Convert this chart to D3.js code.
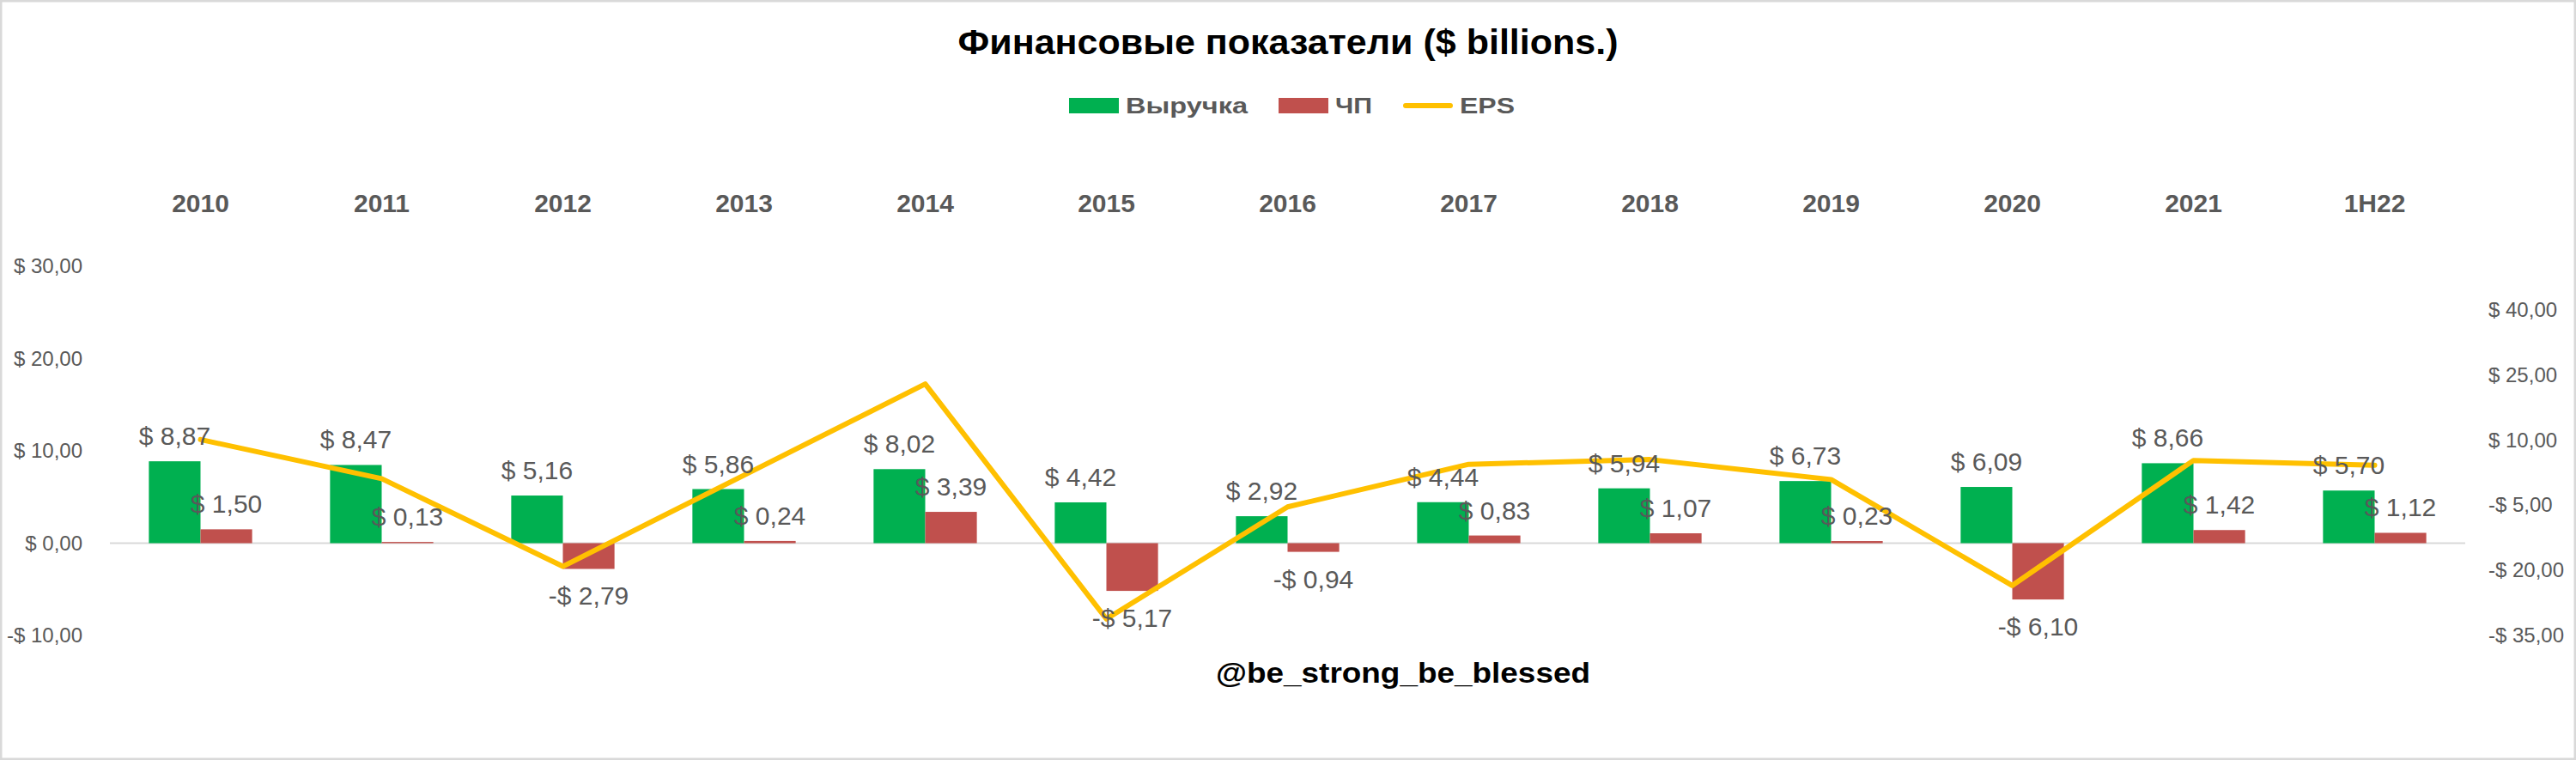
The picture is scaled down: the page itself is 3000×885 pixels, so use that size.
<!DOCTYPE html>
<html>
<head>
<meta charset="utf-8">
<script src="https://cdn.jsdelivr.net/npm/d3@7"></script>
<style>
  body { margin: 0; background: #fff; }
  svg { display: block; font-family: "Liberation Sans", Arial, sans-serif; }
</style>
</head>
<body>
<div id="chart"></div>
<script>
const categories = ["2010", "2011", "2012", "2013", "2014", "2015", "2016", "2017", "2018", "2019", "2020", "2021", "1H22"];
const revenue = [8.87, 8.47, 5.16, 5.86, 8.02, 4.42, 2.92, 4.44, 5.94, 6.73, 6.09, 8.66, 5.70];
const netIncome = [1.50, 0.13, -2.79, 0.24, 3.39, -5.17, -0.94, 0.83, 1.07, 0.23, -6.10, 1.42, 1.12];
const eps = [10.1, 1.1, -19.1, 1.9, 22.9, -31.2, -5.4, 4.4, 5.5, 0.9, -23.5, 5.3, 4.2];

const leftTicks = [-10, 0, 10, 20, 30];
const rightTicks = [-35, -20, -5, 10, 25, 40];
const seriesNames = ["Выручка", "ЧП", "EPS"];

const title = "Финансовые показатели ($ billions.)";
const watermark = "@be_strong_be_blessed";

const width = 3000;
const height = 885;
const plot = { left: 128, right: 2871, top: 310, bottom: 740 };

const colors = { "Выручка": "#00B050", "ЧП": "#C0504D", "EPS": "#FFC000" };
const textGrey = "#595959";

const locale = d3.formatLocale({
  decimal: ",",
  thousands: " ",
  grouping: [3],
  currency: ["$ ", ""],
  minus: "-"
});
const money = locale.format("$.2f");

const svg = d3.select("#chart").append("svg")
    .attr("width", width)
    .attr("height", height);

// chart frame
svg.append("rect")
    .attr("x", 1.25)
    .attr("y", 1.25)
    .attr("width", width - 2.5)
    .attr("height", height - 2.5)
    .attr("fill", "#fff")
    .attr("stroke", "#d9d9d9")
    .attr("stroke-width", 2.5);

const x0 = d3.scaleBand()
    .domain(categories)
    .range([plot.left, plot.right])
    .paddingInner(0.43)
    .paddingOuter(0.215);

const x1 = d3.scaleBand()
    .domain(["Выручка", "ЧП"])
    .range([0, x0.bandwidth()]);

const yLeft = d3.scaleLinear()
    .domain([-10, 30])
    .range([plot.bottom, plot.top]);

const yRight = d3.scaleLinear()
    .domain([-35, 50])
    .range([plot.bottom, plot.top]);

// axes
const leftAxis = svg.append("g")
    .attr("transform", "translate(96,0)")
    .call(d3.axisLeft(yLeft).tickValues(leftTicks).tickFormat(money).tickSize(0).tickPadding(0));

const rightAxis = svg.append("g")
    .attr("transform", "translate(2898,0)")
    .call(d3.axisRight(yRight).tickValues(rightTicks).tickFormat(money).tickSize(0).tickPadding(0));

[leftAxis, rightAxis].forEach(a => {
  a.select(".domain").remove();
  a.selectAll("text")
      .attr("fill", textGrey)
      .style("font-size", "24px")
      .style("font-family", "\"Liberation Sans\", Arial, sans-serif");
});

const catAxis = svg.append("g")
    .attr("transform", "translate(0,247)")
    .call(d3.axisTop(x0).tickSize(0).tickPadding(0));
catAxis.select(".domain").remove();
catAxis.selectAll("text")
    .attr("fill", textGrey)
    .style("font-size", "30px")
    .style("font-weight", "bold")
    .style("font-family", "\"Liberation Sans\", Arial, sans-serif");

// zero line
svg.append("line")
    .attr("x1", plot.left)
    .attr("x2", plot.right)
    .attr("y1", yLeft(0))
    .attr("y2", yLeft(0))
    .attr("stroke", "#d9d9d9")
    .attr("stroke-width", 2);

const barData = categories.flatMap((c, i) => [
  { cat: c, key: "Выручка", value: revenue[i] },
  { cat: c, key: "ЧП", value: netIncome[i] }
]);

svg.append("g")
  .selectAll("rect")
  .data(barData)
  .enter()
  .append("rect")
    .attr("x", d => x0(d.cat) + x1(d.key))
    .attr("y", d => yLeft(Math.max(0, d.value)))
    .attr("width", x1.bandwidth())
    .attr("height", d => Math.abs(yLeft(d.value) - yLeft(0)))
    .attr("fill", d => colors[d.key]);

const epsLine = d3.line()
    .x((d, i) => x0(categories[i]) + x0.bandwidth() / 2)
    .y(d => yRight(d));

svg.append("path")
    .datum(eps)
    .attr("d", epsLine)
    .attr("fill", "none")
    .attr("stroke", colors["EPS"])
    .attr("stroke-width", 6)
    .attr("stroke-linejoin", "round")
    .attr("stroke-linecap", "round");

// data labels: above positive bars, below negative ones
svg.append("g")
    .attr("fill", textGrey)
    .attr("font-size", 30)
    .attr("text-anchor", "middle")
  .selectAll("text")
  .data(barData)
  .enter()
  .append("text")
    .attr("x", d => x0(d.cat) + x1(d.key) + x1.bandwidth() / 2)
    .attr("y", d => d.value >= 0 ? yLeft(d.value) - 19 : yLeft(d.value) + 42)
    .text(d => money(d.value));

// legend
const legendX = 1245;
const legendY = 132;
const legendTextWidths = [142, 43, 64];
let lx = legendX;
const legend = svg.append("g");
seriesNames.forEach((name, i) => {
  if (name === "EPS") {
    legend.append("line")
        .attr("x1", lx + 3)
        .attr("x2", lx + 58 - 3)
        .attr("y1", legendY - 9)
        .attr("y2", legendY - 9)
        .attr("stroke", colors[name])
        .attr("stroke-width", 6)
        .attr("stroke-linecap", "round");
  } else {
    legend.append("rect")
        .attr("x", lx)
        .attr("y", legendY - 18)
        .attr("width", 58)
        .attr("height", 18)
        .attr("fill", colors[name]);
  }
  legend.append("text")
      .attr("x", lx + 66)
      .attr("y", legendY)
      .attr("fill", textGrey)
      .attr("font-size", 26)
      .attr("font-weight", "bold")
      .attr("textLength", legendTextWidths[i])
      .attr("lengthAdjust", "spacingAndGlyphs")
      .text(name);
  lx += 66 + legendTextWidths[i] + 36;
});

svg.append("text")
    .attr("x", 1500)
    .attr("y", 63)
    .attr("text-anchor", "middle")
    .attr("font-size", 40)
    .attr("font-weight", "bold")
    .attr("fill", "#000")
    .attr("textLength", 769)
    .attr("lengthAdjust", "spacingAndGlyphs")
    .text(title);

svg.append("text")
    .attr("x", 1416)
    .attr("y", 795)
    .attr("font-size", 34)
    .attr("font-weight", "bold")
    .attr("fill", "#000")
    .attr("textLength", 436)
    .attr("lengthAdjust", "spacingAndGlyphs")
    .text(watermark);
</script>
</body>
</html>
